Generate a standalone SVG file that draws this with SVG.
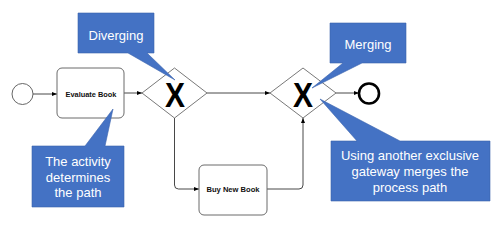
<svg xmlns="http://www.w3.org/2000/svg" width="499" height="226" viewBox="0 0 499 226">
<style>
.task{fill:#fff;stroke:#6b6b6b;stroke-width:1}
.gw{fill:#fff;stroke:#555;stroke-width:0.8}
.tt{font-family:"Liberation Sans",Arial,sans-serif;font-weight:bold;font-size:8px;fill:#111;text-anchor:middle}
.x{font-family:"Liberation Sans",Arial,sans-serif;font-weight:bold;font-size:35px;fill:#000;text-anchor:middle}
.co{fill:#4472C4;stroke:#3a63ad;stroke-width:0.6}
.ct{font-family:"Liberation Sans",Arial,sans-serif;font-size:13px;fill:#fff;text-anchor:middle}
.ln{fill:none;stroke:#333;stroke-width:0.9}
</style>
<defs>
<marker id="ah" viewBox="0 0 10 10" refX="10" refY="5" markerWidth="5" markerHeight="5" orient="auto" markerUnits="userSpaceOnUse">
<path d="M0,1 L10,5 L0,9 Z" fill="#000"/>
</marker>
</defs>
<g id="connectors">
<path class="ln" d="M33,94 H57" marker-end="url(#ah)"/>
<path class="ln" d="M124,93 H142" marker-end="url(#ah)"/>
<path class="ln" d="M207,93 H270" marker-end="url(#ah)"/>
<path class="ln" d="M336,93 H359" marker-end="url(#ah)"/>
<path class="ln" d="M174.5,118 V185 Q174.5,189 178.5,189 H199" marker-end="url(#ah)"/>
<path class="ln" d="M267,189 H299 Q303,189 303,185 V118" marker-end="url(#ah)"/>
</g>
<g id="start"><circle cx="22.5" cy="94" r="10.5" fill="#fff" stroke="#555" stroke-width="0.9"/></g>
<g id="evaluate"><rect class="task" x="57" y="68" width="67" height="50" rx="5"/><text class="tt" x="91" y="96.5" textLength="51" lengthAdjust="spacingAndGlyphs">Evaluate Book</text></g>
<g id="gw1"><path class="gw" d="M174.5,68 L207,93 L174.5,118 L142,93 Z"/><text class="x" x="175" y="106.5" textLength="20" lengthAdjust="spacingAndGlyphs">X</text></g>
<g id="gw2"><path class="gw" d="M303,68 L336,93 L303,118 L270,93 Z"/><text class="x" x="303" y="106.5" textLength="20" lengthAdjust="spacingAndGlyphs">X</text></g>
<g id="end"><circle cx="369" cy="93.5" r="10" fill="#fff" stroke="#000" stroke-width="2.6"/></g>
<g id="buy"><rect class="task" x="199" y="165" width="68" height="50" rx="5"/><text class="tt" x="233" y="192" textLength="53" lengthAdjust="spacingAndGlyphs">Buy New Book</text></g>
<g id="c-diverging"><path class="co" d="M78,13 H154 V53 H147 L175,80 L128,53 H78 Z"/><text class="ct" x="116" y="39.5">Diverging</text></g>
<g id="c-merging"><path class="co" d="M330,23 H406 V63 H362 L312,88 L343,63 H330 Z"/><text class="ct" x="368" y="49">Merging</text></g>
<g id="c-activity"><path class="co" d="M32,146 H85 L113,109 L105,146 H124 V207 H32 Z"/><text class="ct" x="78" y="166">The activity</text><text class="ct" x="78" y="181.5">determines</text><text class="ct" x="78" y="197">the path</text></g>
<g id="c-using"><path class="co" d="M331,141 H357 L320,99 L400,141 H490 V201 H331 Z"/><text class="ct" x="410" y="160">Using another exclusive</text><text class="ct" x="410" y="176">gateway  merges the</text><text class="ct" x="410" y="192">process path</text></g>
</svg>
